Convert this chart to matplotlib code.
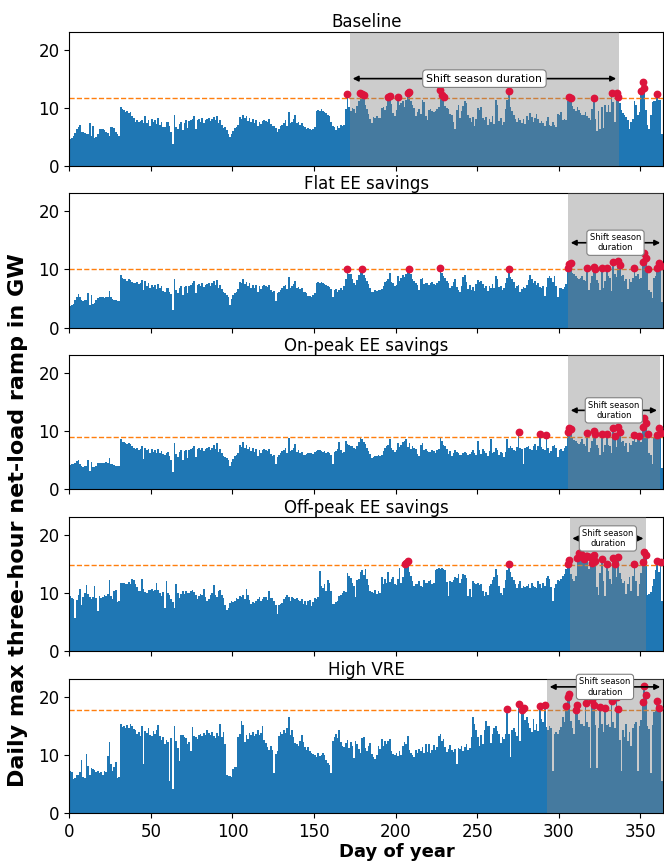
import numpy as np
import matplotlib
matplotlib.use("Agg")
import matplotlib.pyplot as plt

# daily max three-hour net-load ramp (GW), one row = 10 days
baseline = [
    4.6, 4.7, 5.2, 5.6, 6.3, 6.6, 7.1, 5.9, 5.8, 5.7,
    5.5, 5.4, 7.4, 5.1, 6.9, 4.8, 4.9, 5.5, 6.3, 6.4,
    6.4, 6.2, 5.8, 5.7, 5.2, 6.6, 6.7, 6.5, 5.8, 5.4,
    5.2, 10.2, 9.8, 9.6, 9.3, 9.5, 9.0, 9.2, 8.6, 8.3,
    7.6, 7.8, 7.5, 7.7, 7.9, 7.3, 8.6, 7.4, 7.9, 6.9,
    8.1, 7.6, 7.9, 7.2, 8.2, 7.0, 7.5, 6.7, 6.6, 7.5,
    7.6, 6.8, 5.8, 3.8, 8.8, 6.7, 6.3, 7.2, 7.6, 6.2,
    7.4, 7.8, 6.5, 7.7, 7.9, 8.1, 8.6, 6.3, 7.8, 8.0,
    7.6, 8.2, 7.4, 7.9, 8.0, 8.2, 7.7, 8.1, 8.4, 7.9,
    8.6, 7.3, 7.8, 7.0, 6.5, 6.7, 6.2, 5.5, 4.9, 5.4,
    6.0, 6.5, 6.7, 7.1, 8.4, 8.0, 8.7, 8.2, 8.6, 7.7,
    8.3, 7.5, 8.0, 7.4, 7.9, 6.8, 7.6, 7.2, 7.7, 7.9,
    7.7, 7.6, 8.0, 7.2, 6.8, 6.9, 6.5, 5.8, 6.4, 6.8,
    7.0, 7.4, 7.9, 6.9, 9.2, 7.4, 7.6, 8.0, 8.7, 7.3,
    7.5, 7.1, 7.3, 6.8, 6.6, 6.4, 6.5, 6.3, 6.1, 6.4,
    6.6, 9.4, 9.6, 9.5, 9.7, 9.4, 9.3, 9.1, 8.8, 8.5,
    7.5, 6.8, 6.6, 6.2, 6.9, 6.5, 7.1, 6.8, 7.0, 9.8,
    12.3, 10.2, 9.4, 9.9, 9.7, 9.1, 10.3, 11.2, 12.6, 12.4,
    12.2, 10.4, 9.7, 8.9, 8.1, 7.3, 8.4, 8.2, 8.5, 8.3,
    8.2, 9.9, 10.2, 9.6, 10.3, 11.9, 12.0, 10.6, 9.0, 8.5,
    9.6, 11.8, 10.4, 10.8, 11.1, 10.2, 11.3, 12.5, 12.7, 11.1,
    10.5, 9.9, 8.6, 9.3, 9.7, 8.9, 11.3, 10.9, 8.6, 7.9,
    9.6, 9.8, 9.4, 9.2, 9.5, 9.7, 10.1, 13.1, 12.2, 11.9,
    10.3, 10.0, 9.8, 8.9, 8.8, 7.6, 6.4, 9.6, 10.5, 8.3,
    9.4, 10.3, 11.2, 10.8, 8.7, 8.2, 7.6, 8.4, 6.8, 8.1,
    9.9, 9.6, 10.1, 8.2, 7.9, 8.4, 7.1, 8.0, 7.6, 8.5,
    7.2, 11.3, 10.5, 7.7, 8.2, 7.0, 7.5, 9.8, 11.4, 12.8,
    10.1, 9.4, 8.8, 8.1, 7.5, 8.3, 7.9, 7.4, 8.0, 7.2,
    8.6, 7.8, 9.1, 8.4, 7.6, 8.3, 8.9, 8.1, 7.4, 7.7,
    7.3, 6.9, 7.7, 8.4, 7.1, 6.8, 7.6, 7.0, 6.6, 8.9,
    8.7, 9.2, 7.9, 8.1, 7.8, 11.2, 11.8, 11.7, 10.3, 9.8,
    9.5, 10.1, 9.6, 9.0, 8.7, 8.8, 9.2, 8.6, 8.3, 7.9,
    9.8, 11.7, 8.0, 6.0, 9.4, 6.3, 10.1, 6.5, 10.4, 9.2,
    10.5, 9.3, 12.5, 10.9, 7.6, 12.5, 11.9, 10.8, 9.6, 9.1,
    8.7, 8.4, 7.8, 6.4, 7.5, 8.1, 11.2, 10.5, 8.8, 9.3,
    12.8, 14.5, 13.4, 9.6, 7.0, 6.4, 8.7, 11.0, 11.2, 11.2,
    12.3, 11.4, 11.4, 5.5, 5.2,
]

flat_ee = [
    3.8, 3.9, 4.1, 4.8, 5.3, 5.7, 5.2, 4.7, 4.6, 4.7,
    4.7, 6.0, 3.9, 5.6, 4.1, 4.2, 4.7, 5.1, 5.2, 5.2,
    5.2, 5.1, 5.3, 5.2, 6.3, 5.3, 4.9, 4.8, 4.7, 4.6,
    4.6, 9.0, 8.6, 8.4, 8.3, 8.1, 8.4, 8.2, 7.8, 7.6,
    7.6, 7.8, 7.5, 7.7, 8.2, 6.5, 8.0, 7.2, 7.6, 6.8,
    7.4, 7.0, 7.3, 6.6, 7.5, 6.9, 7.1, 6.3, 6.2, 6.8,
    6.9, 6.2, 5.7, 3.0, 8.3, 6.5, 5.9, 6.9, 7.2, 5.6,
    7.0, 7.2, 5.9, 7.1, 7.4, 7.6, 8.0, 5.9, 7.3, 7.5,
    7.2, 7.6, 7.0, 7.4, 7.5, 7.7, 7.2, 7.6, 8.0, 7.4,
    8.2, 6.8, 7.3, 6.6, 6.1, 6.0, 5.6, 5.2, 3.9, 4.9,
    5.6, 6.0, 6.2, 6.6, 7.9, 7.6, 8.4, 7.5, 7.9, 7.2,
    7.7, 6.9, 7.4, 6.8, 7.3, 6.2, 7.1, 6.6, 7.1, 7.3,
    7.1, 7.0, 7.4, 6.5, 6.2, 6.3, 4.5, 5.9, 6.2, 6.5,
    6.9, 7.1, 7.4, 6.6, 8.7, 6.9, 7.1, 7.5, 8.1, 6.8,
    7.0, 6.6, 6.8, 6.2, 6.1, 5.9, 5.4, 5.5, 5.3, 5.6,
    6.0, 7.6, 7.8, 7.7, 7.8, 7.6, 7.5, 7.4, 7.2, 7.0,
    6.6, 5.3, 6.4, 6.6, 6.2, 6.5, 6.8, 6.4, 7.2, 8.4,
    10.1, 9.3, 9.2, 8.4, 7.6, 7.4, 8.2, 9.0, 9.6, 10.1,
    9.0, 8.6, 8.0, 7.5, 6.9, 6.1, 6.2, 6.4, 6.3, 6.5,
    6.4, 6.6, 7.2, 7.9, 8.0, 8.3, 9.4, 7.9, 7.6, 7.1,
    7.4, 8.8, 8.0, 8.5, 9.0, 8.7, 9.2, 9.6, 10.1, 9.2,
    8.4, 8.1, 7.7, 7.4, 6.4, 8.3, 8.6, 7.5, 7.7, 7.6,
    7.4, 7.6, 7.9, 7.5, 7.3, 7.7, 8.0, 10.3, 9.4, 8.8,
    8.6, 8.0, 7.6, 6.9, 7.1, 7.9, 8.3, 7.0, 6.5, 6.1,
    7.2, 8.7, 9.0, 7.8, 6.7, 7.4, 6.5, 7.0, 6.3, 7.5,
    8.2, 7.9, 8.1, 7.5, 6.9, 7.1, 6.3, 7.2, 6.8, 7.5,
    6.9, 8.8, 8.3, 7.0, 7.2, 6.5, 6.9, 7.6, 8.6, 10.1,
    8.7, 8.4, 7.8, 6.9, 7.1, 7.3, 6.2, 6.6, 7.0, 6.8,
    7.4, 8.2, 9.1, 8.4, 7.7, 8.0, 7.4, 7.6, 7.0, 6.9,
    7.2, 5.4, 7.0, 8.6, 8.8, 8.5, 7.9, 8.9, 7.1, 5.2,
    6.8, 6.9, 6.6, 7.0, 7.5, 10.2, 10.9, 11.1, 9.4, 9.3,
    8.8, 8.6, 8.3, 8.6, 8.9, 8.2, 8.0, 10.3, 6.5, 7.7,
    8.8, 10.5, 10.1, 8.2, 7.6, 6.4, 10.2, 6.8, 8.0, 10.3,
    8.8, 8.6, 6.3, 11.3, 9.2, 8.7, 11.5, 10.7, 8.9, 9.1,
    8.0, 8.4, 6.6, 8.3, 7.9, 8.6, 10.2, 8.9, 9.2, 8.4,
    8.5, 11.3, 12.9, 11.9, 10.1, 6.5, 6.2, 5.1, 8.6, 8.8,
    10.2, 11.2, 10.6, 4.4, 4.3,
]

onpeak_ee = [
    4.2, 4.3, 4.4, 4.6, 4.9, 5.0, 4.4, 4.0, 3.9, 4.0,
    4.0, 5.0, 3.1, 4.8, 3.9, 3.8, 4.1, 4.5, 4.6, 4.6,
    4.6, 4.5, 4.7, 4.6, 5.4, 4.4, 4.3, 4.2, 4.1, 4.0,
    4.0, 8.7, 8.2, 8.1, 8.0, 7.8, 8.0, 7.8, 7.4, 7.1,
    6.9, 7.1, 6.8, 7.0, 7.5, 5.2, 7.2, 6.7, 7.0, 6.3,
    6.9, 6.5, 6.8, 6.2, 7.0, 6.3, 6.6, 6.1, 5.9, 6.3,
    6.4, 5.7, 5.1, 3.0, 8.0, 6.1, 5.6, 6.4, 6.8, 5.0,
    6.6, 6.8, 5.4, 6.7, 7.0, 7.2, 7.5, 5.6, 6.9, 7.1,
    6.8, 7.2, 6.6, 7.0, 7.2, 7.3, 6.8, 7.2, 7.7, 7.0,
    8.0, 6.5, 6.9, 6.2, 5.8, 5.5, 5.4, 5.1, 4.0, 4.7,
    5.3, 5.7, 6.0, 6.3, 7.6, 7.3, 8.1, 7.2, 7.6, 6.9,
    7.3, 6.6, 7.1, 6.4, 7.0, 5.8, 6.8, 6.2, 6.7, 7.0,
    6.7, 6.6, 7.0, 6.1, 5.8, 5.9, 4.3, 5.6, 5.9, 6.2,
    6.6, 6.8, 7.2, 6.3, 8.9, 6.6, 6.8, 7.2, 7.8, 6.5,
    6.7, 6.2, 6.4, 5.9, 5.9, 6.1, 6.2, 6.3, 6.3, 6.1,
    6.4, 6.6, 6.7, 6.8, 6.6, 6.4, 6.6, 6.2, 6.5, 6.3,
    5.9, 4.3, 6.4, 6.6, 7.0, 8.2, 6.8, 6.3, 6.5, 8.4,
    7.8, 7.6, 7.5, 7.4, 7.2, 7.0, 7.4, 8.1, 8.9, 8.6,
    8.2, 7.8, 7.1, 6.6, 6.1, 5.4, 5.6, 5.8, 5.7, 5.9,
    5.8, 6.0, 6.6, 7.2, 7.4, 7.6, 8.6, 7.1, 6.8, 6.4,
    6.7, 7.9, 7.3, 7.7, 8.2, 8.4, 8.7, 7.3, 7.9, 6.9,
    7.5, 7.2, 6.9, 6.1, 5.8, 7.6, 7.9, 6.8, 6.9, 6.6,
    6.4, 6.5, 6.8, 6.6, 6.3, 6.7, 7.0, 8.9, 8.3, 7.6,
    7.5, 6.9, 6.1, 6.6, 5.8, 6.2, 6.8, 6.4, 6.3, 5.9,
    6.0, 6.3, 6.5, 6.2, 5.9, 6.1, 6.4, 6.7, 6.2, 6.0,
    8.4, 6.8, 6.1, 7.0, 6.6, 6.2, 5.7, 6.6, 8.6, 6.3,
    6.4, 7.1, 6.8, 5.9, 6.5, 6.3, 5.6, 6.4, 8.6, 7.2,
    7.4, 7.1, 6.8, 6.6, 7.3, 9.8, 7.2, 6.9, 4.3, 7.1,
    7.3, 7.4, 7.0, 6.8, 7.5, 7.8, 6.8, 7.4, 9.5, 7.3,
    7.0, 6.7, 9.4, 7.1, 6.2, 6.6, 7.4, 7.6, 7.2, 5.6,
    6.8, 6.9, 6.6, 7.1, 7.5, 9.8, 10.6, 10.4, 8.9, 8.5,
    8.3, 8.0, 7.8, 8.1, 8.6, 7.8, 7.5, 9.7, 6.5, 7.1,
    8.3, 10.0, 9.5, 7.7, 7.2, 6.0, 9.5, 6.4, 7.6, 9.6,
    7.7, 7.4, 6.2, 10.5, 9.2, 7.3, 10.7, 9.8, 8.1, 8.4,
    7.5, 7.9, 6.4, 8.0, 7.6, 8.3, 9.4, 8.2, 8.6, 9.2,
    8.2, 10.7, 12.3, 11.4, 9.5, 6.2, 6.0, 4.3, 8.8, 8.9,
    9.4, 10.5, 9.7, 3.7, 3.6,
]

offpeak_ee = [
    9.5, 9.1, 8.9, 5.8, 8.8, 9.6, 10.7, 8.0, 9.3, 10.0,
    11.4, 9.8, 9.3, 9.0, 9.4, 11.3, 9.1, 6.9, 9.5, 9.2,
    9.4, 9.6, 9.5, 9.9, 12.3, 9.5, 9.0, 10.3, 10.6, 8.4,
    8.6, 11.7, 11.8, 11.7, 11.5, 11.6, 11.9, 11.5, 12.4, 12.2,
    11.6, 11.1, 10.3, 10.4, 12.4, 10.7, 10.2, 10.0, 10.6, 10.6,
    10.7, 10.4, 10.5, 11.8, 10.6, 10.1, 9.5, 10.2, 7.5, 12.1,
    10.1, 9.6, 9.0, 8.4, 7.5, 11.5, 10.1, 9.2, 9.8, 10.3,
    9.9, 10.4, 10.1, 10.0, 10.3, 10.5, 10.2, 9.6, 9.0, 9.5,
    9.9, 9.6, 10.7, 9.4, 8.7, 8.9, 9.6, 10.1, 11.4, 9.7,
    9.4, 10.3, 10.5, 9.6, 9.2, 8.0, 7.1, 7.5, 8.3, 8.6,
    8.5, 8.6, 9.2, 9.0, 9.5, 9.3, 9.6, 9.0, 10.7, 9.7,
    8.8, 8.2, 8.5, 8.3, 8.7, 9.0, 9.4, 8.6, 9.0, 9.4,
    9.3, 8.8, 10.3, 9.2, 9.1, 8.6, 7.9, 6.4, 7.9, 8.1,
    8.3, 9.0, 9.4, 9.7, 9.3, 8.7, 9.4, 9.1, 8.9, 9.2,
    8.8, 8.6, 8.9, 8.2, 8.7, 7.9, 8.6, 8.8, 7.8, 8.5,
    9.2, 9.0, 9.3, 13.8, 11.2, 10.8, 11.5, 10.4, 12.3, 11.7,
    10.4, 8.2, 8.1, 8.4, 8.6, 9.5, 9.6, 10.0, 10.3, 10.2,
    13.4, 12.9, 12.6, 11.8, 11.2, 9.3, 12.2, 12.4, 13.6, 14.0,
    13.1, 14.2, 12.4, 11.4, 10.4, 10.2, 10.0, 10.6, 9.9, 10.3,
    10.1, 12.7, 11.6, 12.4, 11.8, 13.6, 11.9, 12.4, 12.7, 11.5,
    11.4, 12.4, 14.4, 11.8, 12.7, 15.0, 15.2, 15.5, 13.6, 13.0,
    12.1, 11.3, 11.6, 11.5, 12.0, 11.3, 11.1, 12.3, 11.7, 11.8,
    12.1, 12.3, 11.6, 11.8, 14.0, 14.2, 14.4, 14.1, 14.3, 14.2,
    14.0, 11.9, 9.5, 12.0, 11.9, 12.2, 12.8, 12.6, 13.2, 11.8,
    12.4, 13.3, 13.1, 12.6, 9.5, 10.7, 9.4, 12.0, 11.8, 11.6,
    11.8, 11.4, 11.6, 10.4, 9.5, 10.2, 9.6, 11.3, 11.6, 12.3,
    12.7, 14.2, 13.1, 11.2, 10.1, 9.6, 10.8, 12.2, 13.9, 15.0,
    13.7, 12.8, 12.3, 11.6, 10.9, 11.5, 12.1, 10.8, 11.3, 11.0,
    11.3, 11.6, 10.9, 11.8, 11.2, 11.1, 10.8, 12.0, 11.5, 10.9,
    11.7, 11.2, 12.6, 13.0, 12.5, 11.0, 8.7, 10.8, 11.6, 12.2,
    12.0, 12.4, 12.9, 13.3, 14.2, 15.0, 15.7, 13.3, 12.4, 12.1,
    13.0, 16.0, 16.9, 16.7, 16.3, 15.8, 16.3, 16.3, 14.1, 16.2,
    15.2, 16.5, 15.6, 11.0, 9.6, 13.5, 15.9, 12.1, 9.5, 15.0,
    13.8, 12.4, 11.6, 16.0, 15.0, 12.8, 16.2, 13.5, 12.4, 11.8,
    12.1, 9.8, 11.5, 12.7, 10.4, 13.0, 15.0, 12.0, 9.5, 11.6,
    13.4, 15.4, 17.1, 16.5, 9.6, 9.8, 10.2, 11.3, 12.4, 13.9,
    15.5, 13.6, 15.3, 8.7, 8.5,
]

high_vre = [
    7.2, 7.0, 5.8, 6.1, 6.6, 6.5, 7.1, 9.2, 6.2, 6.0,
    10.1, 8.1, 6.6, 7.8, 7.6, 7.4, 7.0, 7.2, 6.9, 7.1,
    6.6, 7.2, 7.0, 9.8, 12.3, 8.4, 7.3, 7.9, 8.7, 6.0,
    6.2, 15.3, 14.8, 14.9, 14.6, 15.2, 14.7, 15.3, 15.0, 14.4,
    14.2, 13.6, 14.0, 13.2, 15.0, 8.4, 14.1, 13.8, 14.6, 13.5,
    13.2, 14.1, 13.6, 14.3, 15.1, 13.3, 12.5, 13.0, 11.9, 12.6,
    12.2, 5.5, 12.9, 4.2, 15.0, 12.4, 11.2, 8.9, 13.5, 13.4,
    13.1, 12.9, 11.8, 12.3, 10.6, 14.8, 13.2, 13.0, 12.7, 13.5,
    13.6, 13.3, 13.7, 13.5, 14.3, 13.8, 13.4, 14.0, 13.3, 12.9,
    13.8, 13.3, 15.4, 13.0, 13.9, 11.8, 6.5, 6.3, 6.4, 6.2,
    7.6, 7.9, 8.0, 13.0, 13.6, 15.8, 15.2, 12.3, 13.4, 12.8,
    13.8, 13.5, 14.0, 13.2, 13.6, 14.2, 13.4, 13.8, 15.0, 12.5,
    12.0, 11.3, 10.8, 11.6, 10.9, 6.8, 10.2, 10.6, 13.3, 13.9,
    13.6, 14.2, 13.7, 14.7, 16.5, 13.5, 14.2, 13.1, 12.0, 11.8,
    11.6, 12.4, 13.5, 12.2, 11.3, 10.9, 11.3, 10.6, 10.3, 10.1,
    9.9, 9.7, 10.4, 9.8, 10.0, 10.3, 9.9, 9.1, 8.6, 8.2,
    6.9, 12.4, 13.1, 13.6, 12.9, 14.2, 12.3, 11.6, 11.3, 12.1,
    12.5, 11.2, 12.3, 11.6, 9.5, 12.4, 11.8, 11.1, 10.4, 12.9,
    13.0, 11.2, 10.6, 11.5, 12.1, 10.2, 9.6, 9.3, 10.0, 11.6,
    11.0, 12.7, 11.6, 12.4, 11.8, 12.4, 12.7, 10.7, 10.2, 10.0,
    10.4, 9.8, 10.6, 9.9, 11.6, 12.3, 11.8, 13.3, 10.9, 10.4,
    10.0, 9.7, 10.8, 10.4, 11.0, 10.6, 11.4, 10.3, 11.8, 10.5,
    11.8, 10.3, 10.8, 11.7, 10.9, 11.3, 13.3, 13.6, 12.4, 12.7,
    11.3, 10.5, 11.1, 11.7, 10.9, 10.5, 11.0, 8.5, 11.2, 11.0,
    11.6, 10.7, 11.3, 11.9, 10.8, 11.2, 13.0, 16.5, 15.3, 14.2,
    13.0, 11.5, 13.4, 11.8, 14.2, 15.9, 14.9, 15.0, 12.1, 13.6,
    14.6, 15.0, 14.1, 13.6, 12.1, 13.0, 12.8, 13.6, 17.9, 13.6,
    9.6, 14.3, 14.6, 14.0, 13.2, 18.8, 12.4, 17.8, 18.1, 16.0,
    16.5, 15.5, 14.6, 13.9, 16.2, 14.3, 15.3, 14.1, 18.4, 16.2,
    15.6, 18.5, 14.8, 14.2, 15.0, 14.6, 7.2, 13.6, 14.0, 13.6,
    14.2, 14.8, 16.5, 15.6, 18.4, 20.0, 20.4, 15.9, 14.6, 13.6,
    17.8, 18.5, 16.0, 15.3, 15.3, 15.0, 19.0, 15.6, 14.8, 7.8,
    19.4, 18.6, 15.2, 7.8, 14.6, 18.2, 15.3, 14.0, 18.0, 15.1,
    15.3, 14.8, 19.2, 15.6, 14.7, 19.9, 17.9, 12.6, 7.2, 14.2,
    13.1, 15.3, 12.4, 14.0, 11.6, 14.6, 15.3, 15.6, 7.2, 15.0,
    16.0, 19.1, 21.8, 20.3, 15.0, 14.5, 6.9, 15.2, 17.3, 17.5,
    19.2, 18.0, 17.4, 5.5, 5.3,
]

titles = ["Baseline", "Flat EE savings", "On-peak EE savings",
          "Off-peak EE savings", "High VRE"]
series = [baseline, flat_ee, onpeak_ee, offpeak_ee, high_vre]
thresholds = [11.6, 10.0, 9.1, 14.8, 17.7]
season_start = [172, 305.7, 305.7, 306.7, 292.8]
season_end = [337, 364, 362, 353.7, 364]
arrow_y = [15.0, 14.6, 13.6, 19.4, 21.7]
season_text = ["Shift season duration"] + ["Shift season\nduration"] * 4
text_size = [7.8, 6, 6, 6, 6]

days = np.arange(365)

fig, axs = plt.subplots(5, 1, figsize=(6.64, 8.64), sharex=True, sharey=True)
fig.subplots_adjust(left=0.1045, right=0.9985, top=0.9635, bottom=0.059, hspace=0.205)

for i, ax in enumerate(axs):
    vals = np.array(series[i])
    ax.bar(days, vals, width=1, align='edge', color='C0', linewidth=0, zorder=1)
    ax.axhline(thresholds[i], color='C1', ls='--', lw=1, zorder=2)
    ax.axvspan(season_start[i], season_end[i], color='gray', alpha=0.4, lw=0, zorder=3)
    top = vals > thresholds[i]
    ax.plot(days[top] + 0.5, vals[top], 'o', color='crimson', ms=4.6, zorder=5)
    ax.annotate('', xy=(season_start[i], arrow_y[i]), xytext=(season_end[i], arrow_y[i]),
                arrowprops=dict(arrowstyle='<|-|>', color='black', lw=1.2, mutation_scale=8),
                zorder=6)
    ax.text((season_start[i] + season_end[i]) / 2, arrow_y[i], season_text[i],
            ha='center', va='center', fontsize=text_size[i], zorder=7,
            bbox=dict(boxstyle='round,pad=0.35', fc='white', ec='gray', lw=0.8))
    ax.set_title(titles[i], fontsize=12, pad=3)
    ax.set_xlim(0, 364)
    ax.set_ylim(0, 23.1)
    ax.set_yticks([0, 10, 20])
    ax.set_xticks(range(0, 351, 50))
    ax.tick_params(labelsize=12)

axs[-1].set_xlabel("Day of year", fontsize=13, fontweight='bold')
axs[-1].xaxis.set_label_coords(0.552, -0.225)
fig.text(0.027, 0.398, "Daily max three-hour net-load ramp in GW", rotation=90,
         ha='center', va='center', fontsize=16, fontweight='bold')

fig.savefig("out.png", dpi=100)
